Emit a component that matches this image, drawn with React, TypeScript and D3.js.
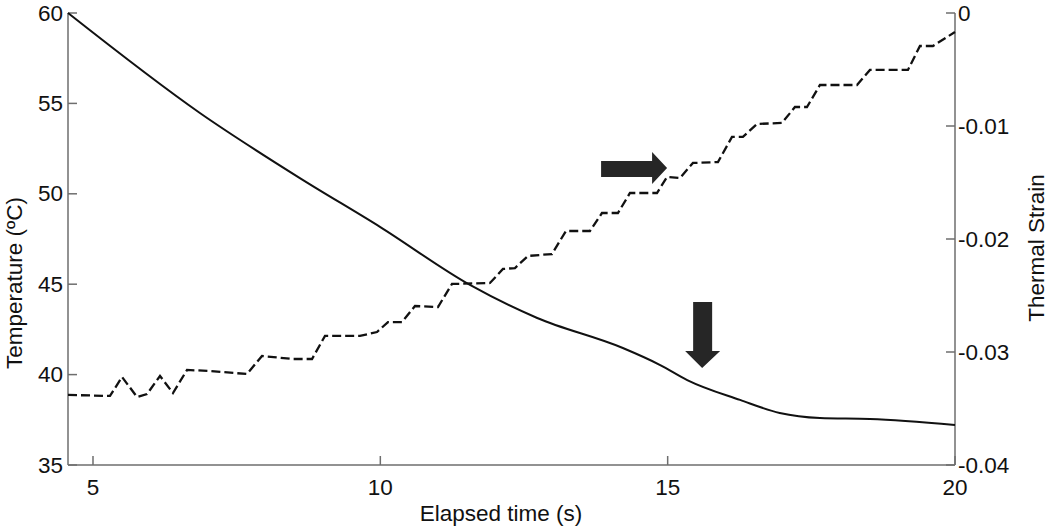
import React, { useEffect } from "react";
import * as d3 from "d3";

// temperature curve (solid)
const tempTime = [4.565, 6.86, 8.6, 10.0, 11.56, 12.73, 14.22, 14.87, 15.34, 16.26, 16.95, 17.65, 18.52, 20.0];
const tempValue = [60, 54.47, 50.87, 48.16, 44.96, 43.13, 41.47, 40.53, 39.7, 38.6, 37.88, 37.6, 37.54, 37.21];

// thermal strain (dashed), stepped curve
const strainTime = [
  4.565, 5.296, 5.505, 5.766, 5.94, 6.166, 6.392, 6.636, 7.036, 7.68, 7.941, 8.48, 8.811, 9.037, 9.646,
  9.942, 10.133, 10.377, 10.603, 11.003, 11.247, 11.908, 12.134, 12.343, 12.569, 12.987, 13.23, 13.648,
  13.857, 14.135, 14.344, 14.814, 14.988, 15.214, 15.44, 15.875, 16.119, 16.31, 16.554, 16.989, 17.215,
  17.424, 17.65, 18.294, 18.52, 19.181, 19.39, 19.616, 20.0,
];
const strainValue = [
  -0.0338, -0.03389, -0.03221, -0.03398, -0.03372, -0.03212, -0.03363, -0.03159, -0.03168, -0.03195,
  -0.03035, -0.03062, -0.03062, -0.02858, -0.02858, -0.02823, -0.02735, -0.02735, -0.02593, -0.02602,
  -0.02398, -0.02389, -0.02265, -0.02257, -0.0215, -0.02133, -0.01929, -0.01929, -0.0177, -0.0177,
  -0.01593, -0.01593, -0.01451, -0.0146, -0.01327, -0.01319, -0.01097, -0.01097, -0.00982, -0.00973,
  -0.00832, -0.00832, -0.00637, -0.00637, -0.00504, -0.00504, -0.00292, -0.00292, -0.00168,
];

const xTicks = [5, 10, 15, 20];
const leftTicks = [35, 40, 45, 50, 55, 60];
const rightTicks = [0, -0.01, -0.02, -0.03, -0.04];
const rightTickLabels = ["0", "-0.01", "-0.02", "-0.03", "-0.04"];

// arrow annotations (tip positions in data units: time, temperature)
const arrowRight = { t: 14.99, temp: 51.43 };
const arrowDown = { t: 15.6, temp: 40.36 };

const W = 1050;
const H = 530;
const left = 68;
const right = 955;
const top = 13;
const bottom = 465;
const font = "'Liberation Sans', Arial, sans-serif";
const axisColor = "#6e6e6e";

export default function App() {
  useEffect(() => {
    document.body.style.margin = "0";
  }, []);

  const x = d3.scaleLinear().domain([4.565, 20]).range([left, right]);
  const yT = d3.scaleLinear().domain([35, 60]).range([bottom, top]);
  const yS = d3.scaleLinear().domain([-0.04, 0]).range([bottom, top]);

  const tempLine = d3
    .line<number>()
    .x((d, i) => x(tempTime[i]))
    .y((d) => yT(d))
    .curve(d3.curveMonotoneX);

  const strainLine = d3
    .line<number>()
    .x((d, i) => x(strainTime[i]))
    .y((d) => yS(d));

  // right arrow shape
  const ax = x(arrowRight.t);
  const ay = yT(arrowRight.temp);
  const rightArrow = `M${ax},${ay} L${ax - 15},${ay - 16} L${ax - 15},${ay - 7} L${ax - 66},${ay - 7} L${ax - 66},${ay + 9} L${ax - 15},${ay + 9} L${ax - 15},${ay + 16} Z`;

  const dx = x(arrowDown.t);
  const dy = yT(arrowDown.temp);
  const downArrow = `M${dx},${dy} L${dx - 17},${dy - 17} L${dx - 9},${dy - 17} L${dx - 9},${dy - 66} L${dx + 10},${dy - 66} L${dx + 10},${dy - 17} L${dx + 18},${dy - 17} Z`;

  return (
    <svg width={W} height={H} style={{ display: "block", background: "#fff" }} fontFamily={font}>
      {/* axes */}
      <g stroke={axisColor} strokeWidth={1.5} fill="none">
        <line x1={left} x2={left} y1={top} y2={bottom} />
        <line x1={right} x2={right} y1={top} y2={bottom} />
        <line x1={left} x2={right} y1={bottom} y2={bottom} />
        {leftTicks.map((t) => (
          <line key={"lt" + t} x1={left} x2={left + 9} y1={yT(t)} y2={yT(t)} />
        ))}
        {rightTicks.map((t) => (
          <line key={"rt" + t} x1={right - 9} x2={right} y1={yS(t)} y2={yS(t)} />
        ))}
        {xTicks.map((t) => (
          <line key={"xt" + t} x1={x(t)} x2={x(t)} y1={bottom} y2={bottom - 9} />
        ))}
      </g>

      <g fontSize={22.5} fill="#111">
        {leftTicks.map((t) => (
          <text key={"ll" + t} x={left - 5} y={yT(t)} textAnchor="end" dominantBaseline="central">
            {t}
          </text>
        ))}
        {rightTicks.map((t, i) => (
          <text key={"rl" + t} x={right + 3} y={yS(t)} textAnchor="start" dominantBaseline="central">
            {rightTickLabels[i]}
          </text>
        ))}
        {xTicks.map((t) => (
          <text key={"xl" + t} x={x(t)} y={495} textAnchor="middle">
            {t}
          </text>
        ))}
        <text x={501} y={521} textAnchor="middle">
          Elapsed time (s)
        </text>
        <text transform="translate(22,283) rotate(-90)" textAnchor="middle">
          Temperature (ºC)
        </text>
        <text transform="translate(1044,248) rotate(-90)" textAnchor="middle">
          Thermal Strain
        </text>
      </g>

      {/* data */}
      <path d={tempLine(tempValue) || ""} fill="none" stroke="#111" strokeWidth={2} />
      <path d={strainLine(strainValue) || ""} fill="none" stroke="#111" strokeWidth={2.3} strokeDasharray="9,4" />

      {/* annotations */}
      <path d={rightArrow} fill="#262626" />
      <path d={downArrow} fill="#262626" />
    </svg>
  );
}
